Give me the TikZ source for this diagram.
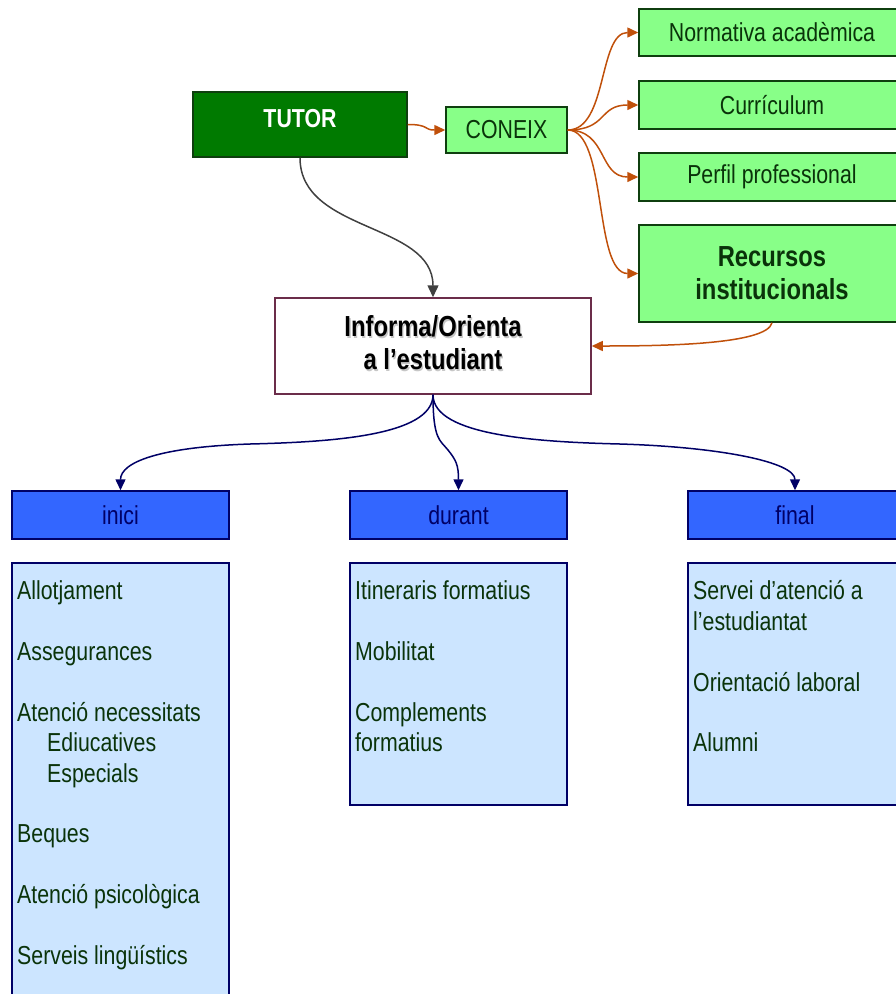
\documentclass[tikz,border=0pt]{standalone}
\usepackage{fontspec}
\setmainfont{Liberation Sans}[FakeStretch=0.82]
\usetikzlibrary{arrows.meta}
\definecolor{tutorgreen}{HTML}{007A00}
\definecolor{tutorborder}{HTML}{0F3F0F}
\definecolor{lightgreen}{HTML}{88FF88}
\definecolor{inkgreen}{HTML}{0A330A}
\definecolor{rust}{HTML}{C0500A}
\definecolor{headblue}{HTML}{3366FF}
\definecolor{navy}{HTML}{000066}
\definecolor{paleblue}{HTML}{CCE5FF}
\definecolor{plum}{HTML}{6B2D4A}
\definecolor{slate}{HTML}{404040}
\newcommand\firstline{\rule{0pt}{19pt}}
\begin{document}
\begin{tikzpicture}[x=1pt,y=-1pt,
  txt/.style={font=\fontsize{26}{30.4}\selectfont},
  boldtxt/.style={font=\fontsize{29}{33}\selectfont\bfseries},
  greenbox/.style={draw=tutorborder, fill=lightgreen, line width=1.5pt, inner sep=0pt,
    text=inkgreen, txt, align=center},
  headbox/.style={draw=navy, fill=headblue, line width=1.5pt, inner sep=0pt,
    minimum height=48pt, text=navy, txt},
  listbox/.style={draw=navy, fill=paleblue, line width=1.5pt},
  listtxt/.style={anchor=north west, inner sep=0pt, text=inkgreen, txt, align=left},
  brarrow/.style={draw=rust, line width=1.5pt, -{Triangle[length=11pt,width=10pt]}},
  navyarrow/.style={draw=navy, line width=1.5pt, -{Triangle[length=11pt,width=10pt]}},
  grayarrow/.style={draw=slate, line width=1.5pt, -{Triangle[length=12pt,width=11pt]}}]

\path[use as bounding box] (0,0) rectangle (896,994);
\begin{scope}
\clip (0,0) rectangle (896,994);

% top row: tutor and what the tutor knows
\node[draw=tutorborder, fill=tutorgreen, line width=1.5pt, inner sep=0pt,
      minimum width=214pt, minimum height=65pt, text=white,
      font=\fontsize{26}{30}\selectfont\bfseries,
      text height=19pt, text depth=13pt] (tutor) at (300,124.5) {TUTOR};
\node[greenbox, minimum width=121pt, minimum height=46pt] (coneix) at (506.5,130) {CONEIX};

\node[greenbox, minimum width=266pt, minimum height=47pt] (norm) at (772,32.5) {Normativa acadèmica};
\node[greenbox, minimum width=266pt, minimum height=48pt] (curr) at (772,105) {Currículum};
\node[greenbox, minimum width=266pt, minimum height=48pt] (perfil) at (772,177) {Perfil professional};
\node[greenbox, minimum width=266pt, minimum height=97pt, boldtxt] (recursos) at (772,273.5)
  {Recursos\\institucionals};

% central box, lettering with a soft drop shadow
\node[draw=plum, fill=white, line width=1.5pt, minimum width=316pt, minimum height=96pt,
      inner sep=0pt] (informa) at (433,346) {};
\node[boldtxt, align=center, text=black!22, inner sep=0pt] (informashadow) at (434.3,344.3)
  {Informa/Orienta\\a l’estudiant};
\node[boldtxt, align=center, text=black, inner sep=0pt] (informatext) at (433,343)
  {Informa/Orienta\\a l’estudiant};

% phase headers
\node[headbox, minimum width=217pt] (inici) at (120.5,515) {inici};
\node[headbox, minimum width=217pt] (durant) at (458.5,515) {durant};
\node[headbox, minimum width=214pt] (final) at (795,515) {final};

% phase contents
\draw[listbox] (12,563) rectangle (229,1005);
\draw[listbox] (350,563) rectangle (567,805);
\draw[listbox] (688,563) rectangle (905,805);

\node[listtxt] (llistainici) at (17,580.5)
  {\firstline Allotjament\\[30.4pt]Assegurances\\[30.4pt]Atenció necessitats\\
   \hspace*{30pt}Ediucatives\\ \hspace*{30pt}Especials\\[30.4pt]Beques\\[30.4pt]
   Atenció psicològica\\[30.4pt]Serveis lingüístics};
\node[listtxt] (llistadurant) at (355,580.5)
  {\firstline Itineraris formatius\\[30.4pt]Mobilitat\\[30.4pt]Complements\\formatius};
\node[listtxt] (llistafinal) at (693,580.5)
  {\firstline Servei d’atenció a\\l’estudiantat\\[30.4pt]Orientació laboral\\[30.4pt]Alumni};

% connectors
\draw[brarrow] (tutor.east) .. controls +(22,0) and +(-22,0) .. (coneix.west);
\draw[brarrow] (coneix.east) .. controls +(40,0) and +(-40,0) .. (norm.west);
\draw[brarrow] (coneix.east) .. controls +(40,0) and +(-40,0) .. (curr.west);
\draw[brarrow] (coneix.east) .. controls +(40,0) and +(-40,0) .. (perfil.west);
\draw[brarrow] (coneix.east) .. controls +(40,0) and +(-45,0) .. (recursos.west);
\draw[brarrow] (recursos.south) .. controls +(-5,22) and +(70,0) .. (informa.east);

\draw[grayarrow] (tutor.south) .. controls +(0,75) and +(0,-75) .. (informa.north);

\draw[navyarrow] (informa.south) .. controls (433,436) and (330,442) .. (250,444)
  .. controls (160,447) and (120.5,462) .. (inici.north);
\draw[navyarrow] (informa.south) .. controls (433,440) and (440,440) .. (448,450)
  .. controls (456,460) and (458.5,465) .. (durant.north);
\draw[navyarrow] (informa.south) .. controls (433,436) and (540,442) .. (620,444)
  .. controls (720,447) and (795,462) .. (final.north);
\end{scope}
\end{tikzpicture}
\end{document}
